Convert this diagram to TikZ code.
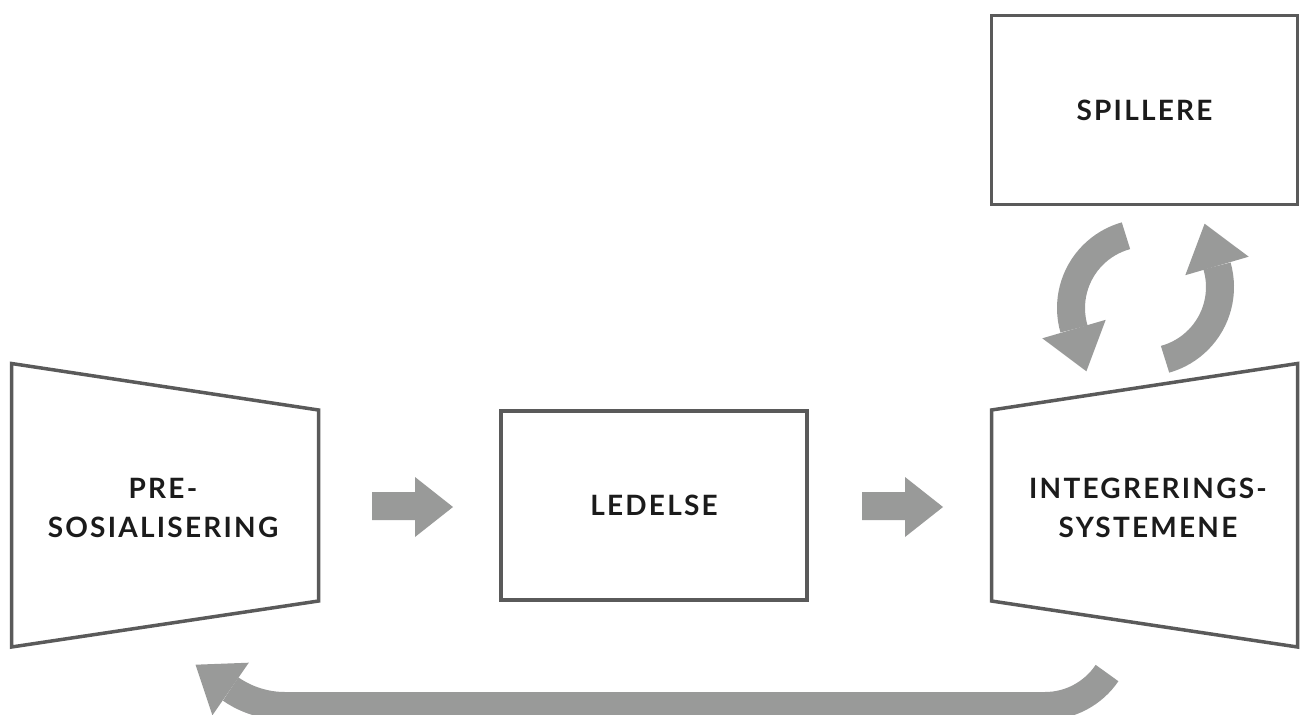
\documentclass[tikz,border=0pt]{standalone}
\usepackage{fontspec}
\setmainfont{Lato}
\newfontfamily\labfont{Lato}[LetterSpace=8]
\definecolor{edge}{HTML}{5A5A5A}
\definecolor{arrowgray}{HTML}{999A99}
\definecolor{ink}{HTML}{1B1B1B}
\begin{document}
\begin{tikzpicture}[x=1pt,y=-1pt,
  outline/.style={draw=edge, line width=3.5pt, line join=miter},
  box/.style={outline, minimum width=306pt, minimum height=189pt, inner sep=0pt,
    font=\labfont\bfseries\fontsize{28}{39}\selectfont, text=ink},
  lbl/.style={font=\labfont\bfseries\fontsize{28}{39}\selectfont, text=ink, align=center, inner sep=0pt},
  blk/.style={fill=arrowgray, draw=none},
  band/.style={draw=arrowgray, line width=28pt, line cap=butt}]
\useasboundingbox (0,0) rectangle (1307,715);
\clip (0,0) rectangle (1307,715);

% trapezoid corners
\coordinate (p1) at (11.5,363.5);
\coordinate (p2) at (318.5,410);
\coordinate (p3) at (318.5,601);
\coordinate (p4) at (11.5,647);
\coordinate (q1) at (991.5,410);
\coordinate (q2) at (1297.5,363.5);
\coordinate (q3) at (1297.5,647);
\coordinate (q4) at (991.5,601);

\draw[outline] (p1) -- (p2) -- (p3) -- (p4) -- cycle;
\draw[outline] (q1) -- (q2) -- (q3) -- (q4) -- cycle;

\node[lbl] (pre) at (163,507.5) {PRE-\\SOSIALISERING};
\node[lbl] (integ) at (1148,507.5) {INTEGRERINGS-\\SYSTEMENE};

\node[box] (led) at (654,505.5) {LEDELSE};
\node[box] (spil) at (1144.5,110) {SPILLERE};

% straight block arrows
\fill[blk] (372,492) -- (415,492) -- (415,477) -- (453,507) -- (415,537) -- (415,520) -- (372,520) -- cycle;
\fill[blk] (862,492) -- (905,492) -- (905,477) -- (943,507) -- (905,537) -- (905,520) -- (862,520) -- cycle;

% curved arrows between SPILLERE and INTEGRERINGS-SYSTEMENE
\draw[band] (1146,308) ++(254.5:75) arc[start angle=254.5, end angle=163.7, radius=75];
\fill[blk] (1042.3,338.3) -- (1086.4,371.3) -- (1105.7,319.8) -- cycle;
\draw[band] (1145,287) ++(74.5:75) arc[start angle=74.5, end angle=-16.3, radius=75];
\fill[blk] (1248.7,256.7) -- (1204.6,223.7) -- (1185.3,275.2) -- cycle;

% bottom return arrow
\draw[band] (1045,631.2) ++(34:74.8) arc[start angle=34, end angle=90, radius=74.8]
  -- (285,706) arc[start angle=90, end angle=124.7, radius=95.5];
\fill[blk] (212.4,715.3) -- (195.5,664.7) -- (248.8,662.7) -- cycle;
\end{tikzpicture}
\end{document}
